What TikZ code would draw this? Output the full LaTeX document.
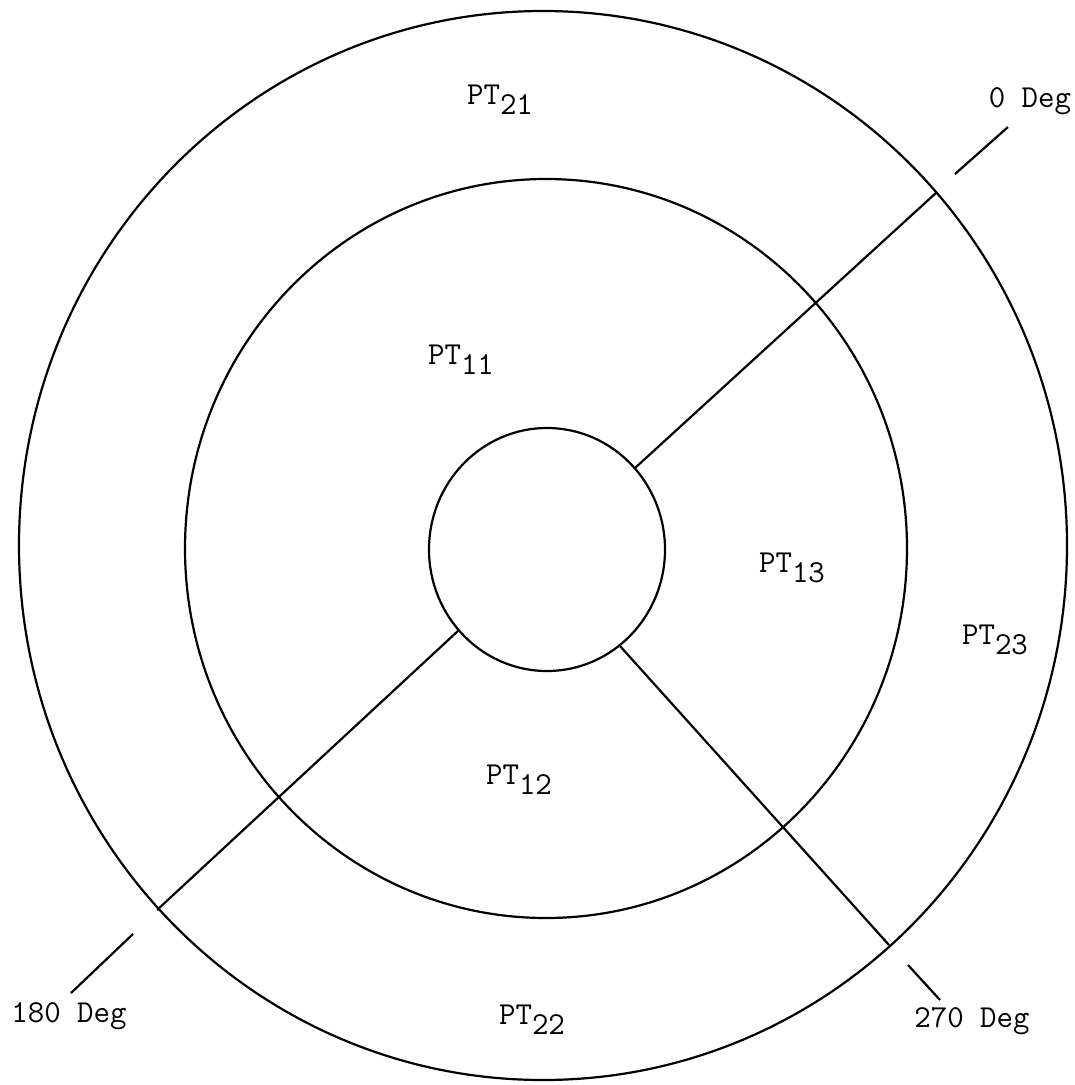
\documentclass[tikz,border=0pt]{standalone}
\usepackage{fontspec}
\newcommand\ptlab[1]{PT\raisebox{-10pt}{#1}}
\begin{document}
\begin{tikzpicture}[x=1pt,y=-1pt,line width=2.2pt,
  lbl/.style={font=\ttfamily\fontsize{32}{36}\selectfont,inner sep=0pt}]
\useasboundingbox (0,0) rectangle (1075,1085);
% circles
\draw (543,545.5) ellipse [x radius=524pt, y radius=534.5pt];
\draw (546,548.5) ellipse [x radius=361pt, y radius=369.5pt];
\draw (547,549.5) ellipse [x radius=118pt, y radius=121.5pt];
% dividing lines
\coordinate (a1) at (635,468); \coordinate (a2) at (937,192);
\coordinate (b1) at (459,630); \coordinate (b2) at (157,910);
\coordinate (c1) at (620,646); \coordinate (c2) at (889,945);
\draw (a1) -- (a2);
\draw (b1) -- (b2);
\draw (c1) -- (c2);
% ticks
\coordinate (t0a) at (955,174); \coordinate (t0b) at (1008,127);
\coordinate (t1a) at (71,993); \coordinate (t1b) at (133,934);
\coordinate (t2a) at (908,965); \coordinate (t2b) at (940,1000);
\draw (t0a) -- (t0b);
\draw (t1a) -- (t1b);
\draw (t2a) -- (t2b);
% labels
\node[lbl] (l21) at (500,100) {\ptlab{21}};
\node[lbl] (l11) at (461,360) {\ptlab{11}};
\node[lbl] (l13) at (792,568) {\ptlab{13}};
\node[lbl] (l23) at (995,640) {\ptlab{23}};
\node[lbl] (l12) at (519,780) {\ptlab{12}};
\node[lbl] (l22) at (532,1020) {\ptlab{22}};
\node[lbl] (d0) at (1030,101) {0 Deg};
\node[lbl] (d180) at (69,1016) {180 Deg};
\node[lbl] (d270) at (972,1021) {270 Deg};
\end{tikzpicture}
\end{document}
